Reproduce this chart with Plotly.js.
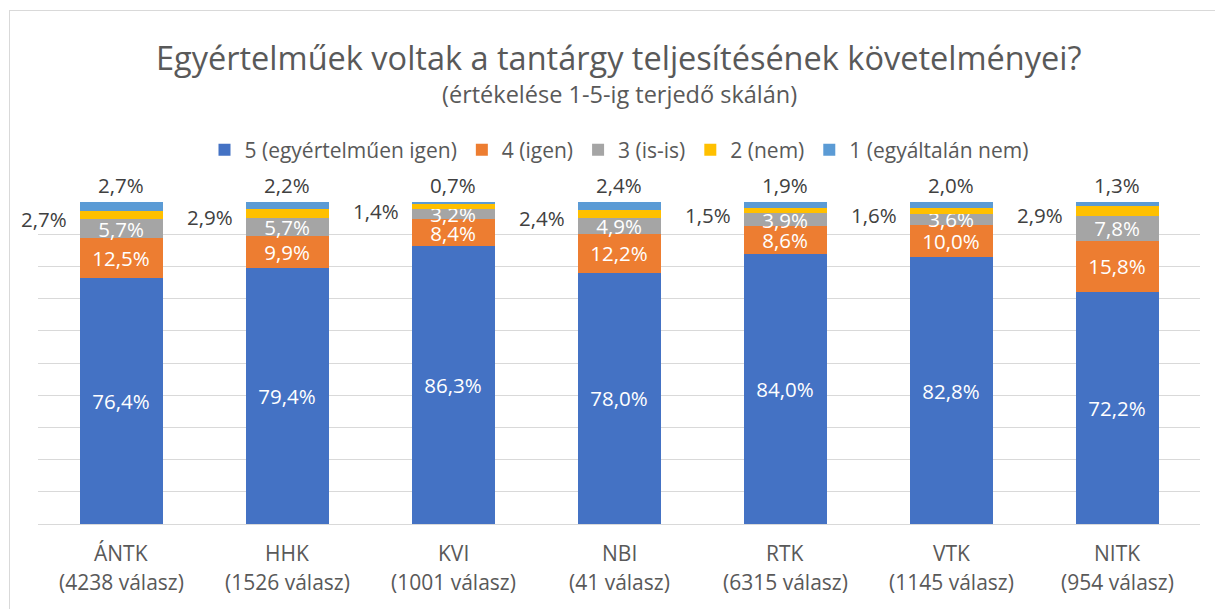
<!DOCTYPE html>
<html>
<head>
<meta charset="utf-8">
<script src="https://cdn.plot.ly/plotly-3.0.1.min.js"></script>
<style>
html,body{margin:0;padding:0;background:#fff;}
#wrap{position:absolute;left:0;top:0;width:1215px;height:609px;overflow:hidden;}
#frame{position:absolute;left:9px;top:10px;width:1300px;height:700px;border-left:1px solid #d9d9d9;border-top:1px solid #d9d9d9;}
#chart{position:absolute;left:0;top:0;width:1215px;height:609px;}
</style>
</head>
<body>
<div id="wrap"><div id="frame"></div><div id="chart"></div></div>
<script>
const categories = ['ÁNTK','HHK','KVI','NBI','RTK','VTK','NITK'];
const responses = ['(4238 válasz)','(1526 válasz)','(1001 válasz)','(41 válasz)','(6315 válasz)','(1145 válasz)','(954 válasz)'];
const seriesNames = ['5 (egyértelműen igen)','4 (igen)','3 (is-is)','2 (nem)','1 (egyáltalán nem)'];
const s5 = [76.4, 79.4, 86.3, 78.0, 84.0, 82.8, 72.2];
const s4 = [12.5, 9.9, 8.4, 12.2, 8.6, 10.0, 15.8];
const s3 = [5.7, 5.7, 3.2, 4.9, 3.9, 3.6, 7.8];
const s2 = [2.7, 2.9, 1.4, 2.4, 1.5, 1.6, 2.9];
const s1 = [2.7, 2.2, 0.7, 2.4, 1.9, 2.0, 1.3];
const colors = ['#4472C4','#ED7D31','#A5A5A5','#FFC000','#5B9BD5'];

const FONT = '"Open Sans", "Noto Sans", sans-serif';
const fmt = v => v.toFixed(1).replace('.', ',') + '%';
const allSeries = [s5, s4, s3, s2, s1];
const LABEL = 20.5;
const CAT = 21;

const traces = allSeries.map((vals, i) => {
  const t = {
    type: 'bar', x: categories, y: vals, name: seriesNames[i],
    marker: {color: colors[i], line: {width: 0}},
    width: 0.5,
    hoverinfo: 'none',
    constraintext: 'none',
    cliponaxis: false
  };
  if (i <= 2) {
    t.text = vals.map(fmt);
    t.textposition = 'inside';
    t.insidetextanchor = 'middle';
    t.textfont = {family: FONT, size: LABEL, color: '#ffffff'};
  } else {
    t.textposition = 'none';
  }
  return t;
});

const annotations = [];
categories.forEach((c, k) => {
  const base = s5[k] + s4[k] + s3[k];
  const top = Math.min(base + s2[k] + s1[k], 100);
  // series "2" labels left of the yellow segment
  annotations.push({
    x: c, y: base + s2[k] / 2, xref: 'x', yref: 'y',
    text: fmt(s2[k]), showarrow: false, xanchor: 'right', yanchor: 'middle',
    xshift: -52, yshift: -4, font: {family: FONT, size: LABEL, color: '#404040'}
  });
  // series "1" labels above the bar
  annotations.push({
    x: c, y: top, xref: 'x', yref: 'y',
    text: fmt(s1[k]), showarrow: false, xanchor: 'center', yanchor: 'middle',
    yshift: 17, font: {family: FONT, size: LABEL, color: '#404040'}
  });
  annotations.push({
    x: c, y: 0, xref: 'x', yref: 'y', text: c, showarrow: false,
    xanchor: 'center', yanchor: 'middle', yshift: -29,
    font: {family: FONT, size: CAT, color: '#595959'}
  });
  annotations.push({
    x: c, y: 0, xref: 'x', yref: 'y', text: responses[k], showarrow: false,
    xanchor: 'center', yanchor: 'middle', yshift: -58,
    font: {family: FONT, size: CAT, color: '#595959'}
  });
});
annotations.push({
  xref: 'paper', yref: 'paper', x: 0.5, y: 1 + (202 - 57) / 322, xanchor: 'center', yanchor: 'middle',
  text: 'Egyértelműek voltak a tantárgy teljesítésének követelményei?', showarrow: false,
  font: {family: FONT, size: 32.5, color: '#595959'}
});
annotations.push({
  xref: 'paper', yref: 'paper', x: 0.5, y: 1 + (202 - 94) / 322, xanchor: 'center', yanchor: 'middle',
  text: '(értékelése 1-5-ig terjedő skálán)', showarrow: false,
  font: {family: FONT, size: 23.5, color: '#595959'}
});

const layout = {
  width: 1215, height: 609,
  margin: {l: 38, r: 15, t: 202, b: 85, pad: 0},
  paper_bgcolor: 'rgba(0,0,0,0)', plot_bgcolor: 'rgba(0,0,0,0)',
  barmode: 'stack',
  showlegend: true,
  legend: {
    orientation: 'h', traceorder: 'normal', x: 0.5, xanchor: 'center',
    y: 1 + (202 - 150) / 322, yanchor: 'middle',
    font: {family: FONT, size: 21, color: '#595959'}, bgcolor: 'rgba(0,0,0,0)'
  },
  xaxis: {range: [-0.5, 6.5], autorange: false, showticklabels: false, showgrid: false, zeroline: false, showline: false, ticks: '', fixedrange: true},
  yaxis: {range: [0, 100], autorange: false, dtick: 10, showgrid: true, gridcolor: '#d9d9d9', gridwidth: 1,
          showticklabels: false, zeroline: true, zerolinecolor: '#d9d9d9', zerolinewidth: 1, ticks: '', fixedrange: true},
  annotations: annotations,
  font: {family: FONT}
};

Plotly.newPlot('chart', traces, layout, {staticPlot: true, displayModeBar: false});
</script>
</body>
</html>
